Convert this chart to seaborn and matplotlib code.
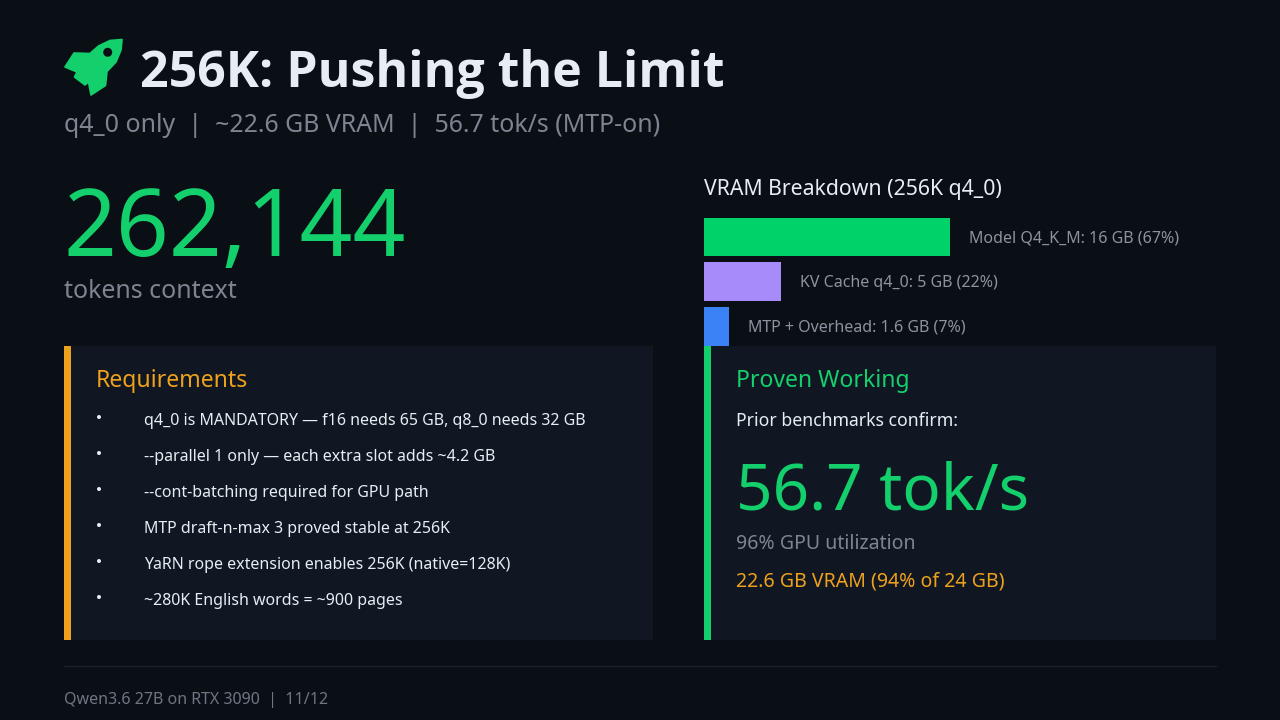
import matplotlib
matplotlib.use("Agg")
import matplotlib.pyplot as plt
import pandas as pd
import seaborn as sns
from matplotlib.patches import Polygon, Rectangle, Circle

W, H = 1280, 720
BG = "#0a0f16"
PANEL = "#111722"
GREEN_TXT = "#14d06c"
ORANGE = "#eea11c"
MUTED = "#7d8590"
LABEL = "#8b949e"
LIGHT = "#e6edf3"

# bar data
categories = ["Model Q4_K_M", "KV Cache q4_0", "MTP + Overhead"]
vram_gb = [16, 5, 1.6]
vram_share = [67, 22, 7]
bar_colors = ["#00d26a", "#a78bfa", "#3b82f6"]

# text data
requirements = [
    "q4_0 is MANDATORY \u2014 f16 needs 65 GB, q8_0 needs 32 GB",
    "--parallel 1 only \u2014 each extra slot adds ~4.2 GB",
    "--cont-batching required for GPU path",
    "MTP draft-n-max 3 proved stable at 256K",
    "YaRN rope extension enables 256K (native=128K)",
    "~280K English words = ~900 pages",
]
req_y = [419, 455, 491, 527, 563, 599]

sns.set_theme(style="dark")
plt.rcParams["font.family"] = ["Noto Sans", "DejaVu Sans"]

fig = plt.figure(figsize=(W / 100, H / 100), dpi=100, facecolor=BG)

# full page axes in pixel units for the slide furniture
page = fig.add_axes([0, 0, 1, 1], zorder=0)
page.set_xlim(0, W)
page.set_ylim(H, 0)
page.axis("off")


def txt(x, y, s, size, color, **kw):
    # size given in px like the slide css
    page.text(x, y, s, fontsize=size * 0.72, color=color, va="center", ha="left", **kw)


# rocket icon
rocket = [(122, 39.5), (110, 40.5), (98.5, 46), (90, 53.5), (74, 53), (65, 67), (77, 72),
          (74.5, 77), (85, 85), (88.5, 82), (91, 95), (105.5, 85.5), (107, 71.5),
          (116, 62), (121, 50)]
page.add_patch(Polygon(rocket, closed=True, fc=GREEN_TXT, ec=GREEN_TXT, lw=1.2, joinstyle="round"))
page.add_patch(Circle((107.7, 52.3), 4.5, fc=BG, ec="none"))

page.text(140, 74, "256K: Pushing the Limit", fontsize=50 * 0.72, color=LIGHT, va="center",
          ha="left", family=["Open Sans", "DejaVu Sans"], fontweight="bold")
txt(64, 125, "q4_0 only  |  ~22.6 GB VRAM  |  56.7 tok/s (MTP-on)", 24.9, MUTED)
txt(64, 232, "262,144", 92.5, GREEN_TXT)
txt(64, 292, "tokens context", 24.9, MUTED)
txt(704, 189, "VRAM Breakdown (256K q4_0)", 21.25, LIGHT)

# left panel
page.add_patch(Rectangle((64, 346), 589, 294, fc=PANEL, ec="none"))
page.add_patch(Rectangle((64, 346), 7, 294, fc=ORANGE, ec="none"))
txt(96, 381, "Requirements", 24 * 0.96, ORANGE)
for y, line in zip(req_y, requirements):
    page.add_patch(Circle((99, y - 2), 2, fc=LIGHT, ec="none"))
    txt(144, y + 2, line, 15.97, LIGHT)

# right panel
page.add_patch(Rectangle((704, 346), 512, 294, fc=PANEL, ec="none"))
page.add_patch(Rectangle((704, 346), 7, 294, fc=GREEN_TXT, ec="none"))
txt(736, 381, "Proven Working", 24 * 0.955, GREEN_TXT)
txt(736, 421, "Prior benchmarks confirm:", 17.65, LIGHT)
txt(736, 493, "56.7 tok/s", 63.8, GREEN_TXT)
txt(736, 544, "96% GPU utilization", 19.55, MUTED)
txt(736, 581, "22.6 GB VRAM (94% of 24 GB)", 19.55, ORANGE)

# footer
page.plot([64, 1216], [665.5, 665.5], color="#1c222b", lw=1)
txt(64, 700, "Qwen3.6 27B on RTX 3090  |  11/12", 16, "#6e7681")

# bar chart
df = pd.DataFrame({"category": categories, "gb": vram_gb})
ax = fig.add_axes([704 / W, 1 - 348.7 / H, 512 / W, 134 / H], zorder=1)
ax.patch.set_alpha(0)
sns.barplot(data=df, x="gb", y="category", hue="category", palette=bar_colors,
            width=0.86, saturation=1, legend=False, linewidth=0, ax=ax)
ax.set_xlim(0, 512 / 15.35)
ax.set_ylim(2.5, -0.5)
ax.axis("off")
for i, (name, gb, pct) in enumerate(zip(categories, vram_gb, vram_share)):
    ax.annotate(f"{name}: {gb} GB ({pct}%)", (gb, i), xytext=(13.8, -1),
                textcoords="offset points", va="center", ha="left",
                fontsize=16 * 0.72, color=LABEL)

fig.savefig("out.png", dpi=100, facecolor=BG)
